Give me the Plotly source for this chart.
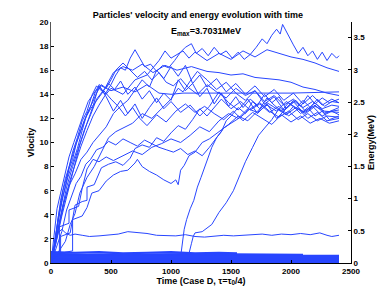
import plotly.graph_objects as go

# ---- tick labels ----
x_ticks = [0, 500, 1000, 1500, 2000, 2500]
v_ticks = [0, 2, 4, 6, 8, 10, 12, 14, 16, 18, 20]
e_ticks = [0, 0.5, 1, 1.5, 2, 2.5, 3, 3.5]
e_tick_labels = ["0", "0.5", "1", "1.5", "2", "2.5", "3", "3.5"]

# ---- particle trajectories (time, velocity) ----
t_p1 = [0, 20, 40, 60, 90, 120, 150, 180, 210, 250, 290, 330, 370, 410, 450, 500, 540, 580, 620, 660, 700, 740, 780, 830, 880, 930, 980, 1030, 1080, 1120, 1170, 1210, 1260, 1310, 1360, 1410, 1460, 1510, 1560, 1610, 1660, 1710, 1760, 1800, 1840, 1880, 1910, 1930, 1960, 1990, 2020, 2060, 2100, 2140, 2180, 2220, 2260, 2300, 2340, 2380, 2400]
v_p1 = [0, 0.8, 2.2, 3.5, 5.2, 6.4, 7.8, 8.6, 9.9, 11.0, 12.1, 13.0, 14.2, 14.6, 14.0, 14.8, 15.6, 16.2, 16.0, 17.0, 17.7, 17.0, 16.3, 16.5, 15.9, 16.4, 16.2, 16.8, 17.5, 17.9, 18.2, 17.4, 17.8, 17.2, 17.9, 17.3, 17.6, 17.0, 17.5, 16.9, 17.3, 17.9, 18.6, 18.2, 18.9, 19.4, 19.0, 19.8, 19.2, 18.6, 18.1, 17.4, 17.9, 17.2, 17.6, 16.9, 17.5, 16.8, 17.4, 17.0, 17.2]

t_p2 = [0, 30, 70, 110, 150, 200, 250, 300, 350, 400, 450, 500, 600, 700, 800, 900, 950, 1000, 1100, 1150, 1200, 1300, 1400, 1500, 1600, 1700, 1800, 1900, 2000, 2100, 2200, 2300, 2400]
v_p2 = [0, 1.4, 3.2, 5.0, 6.6, 8.1, 9.7, 11.0, 12.2, 13.1, 13.9, 14.5, 14.0, 15.2, 15.6, 16.8, 17.6, 17.0, 17.6, 17.0, 17.5, 16.8, 17.4, 16.9, 17.6, 17.1, 17.7, 17.4, 17.1, 16.9, 16.6, 16.2, 15.9]

t_p3 = [0, 40, 80, 130, 180, 230, 280, 330, 380, 450, 520, 600, 680, 760, 850, 950, 1050, 1170, 1300, 1400, 1500, 1600, 1700, 1800, 1900, 2000, 2100, 2200, 2300, 2400]
v_p3 = [0, 2.0, 4.1, 6.3, 8.0, 9.6, 11.1, 12.3, 13.6, 14.5, 15.8, 16.3, 16.0, 16.5, 15.8, 16.4, 16.0, 16.3, 15.9, 15.8, 15.6, 15.7, 15.4, 15.3, 15.2, 15.0, 14.6, 14.4, 14.1, 13.9]

t_p4 = [0, 40, 90, 140, 190, 240, 300, 350, 400, 500, 600, 700, 800, 900, 1000, 1100, 1400, 1700, 2000, 2400]
v_p4 = [0, 1.6, 3.9, 5.9, 7.9, 9.8, 11.6, 13.0, 14.8, 14.3, 14.6, 14.2, 14.8, 14.1, 14.0, 14.1, 14.1, 14.1, 14.1, 14.2]

t_p5 = [0, 30, 60, 100, 140, 180, 220, 260, 300, 340, 380, 430, 480, 530, 580, 640, 700, 760, 820, 880, 940, 1000, 1060, 1120, 1180, 1240, 1300, 1360, 1420, 1480, 1540, 1600, 1660, 1720, 1780, 1840, 1900, 1960, 2020, 2080, 2140, 2200, 2260, 2320, 2400]
v_p5 = [0, 1.5, 3.8, 6.0, 7.5, 9.2, 10.4, 11.8, 12.6, 13.9, 14.7, 14.2, 14.9, 14.4, 15.1, 14.0, 14.6, 13.6, 14.3, 13.3, 14.1, 13.5, 15.2, 14.3, 14.9, 13.8, 14.5, 13.2, 14.1, 13.0, 13.8, 12.9, 13.6, 13.1, 14.0, 13.3, 13.8, 12.8, 13.5, 13.0, 13.9, 13.2, 13.7, 13.3, 13.6]

t_p6 = [0, 25, 50, 80, 110, 150, 190, 230, 270, 310, 350, 400, 460, 520, 580, 640, 700, 760, 820, 880, 940, 1000, 1080, 1160, 1240, 1320, 1400, 1480, 1560, 1640, 1720, 1800, 1880, 1960, 2040, 2120, 2200, 2280, 2400]
v_p6 = [0, 2.0, 4.5, 5.8, 7.2, 8.8, 10.0, 11.2, 12.3, 13.4, 14.0, 14.7, 13.8, 12.6, 13.5, 12.4, 13.2, 12.0, 12.9, 13.7, 12.8, 13.4, 12.5, 13.1, 12.2, 13.0, 14.2, 13.3, 12.7, 13.6, 12.4, 13.2, 12.0, 12.8, 13.5, 12.6, 13.3, 12.5, 12.7]

t_p7 = [0, 40, 70, 70, 150, 150, 230, 260, 300, 350, 400, 460, 520, 600, 680, 760, 840, 920, 1000, 1080, 1160, 1240, 1320, 1400, 1480, 1560, 1640, 1720, 1800, 1880, 1960, 2040, 2120, 2200, 2280, 2400]
v_p7 = [0, 0.6, 0.8, 3.0, 3.3, 4.4, 4.7, 6.2, 7.8, 8.6, 8.4, 8.8, 8.5, 8.9, 9.3, 9.0, 9.6, 9.9, 10.3, 10.0, 10.6, 11.3, 10.9, 11.8, 12.4, 12.0, 12.8, 12.5, 13.1, 12.6, 13.4, 12.9, 12.4, 13.0, 12.6, 12.5]

t_p8 = [0, 60, 120, 180, 180, 260, 300, 340, 400, 460, 520, 580, 640, 700, 720, 760, 820, 880, 940, 1000, 1040, 1060, 1080, 1110, 1150, 1200, 1260, 1320, 1400, 1480, 1560, 1640, 1720, 1800, 1880, 1960, 2040, 2120, 2200, 2280, 2400]
v_p8 = [0, 0.7, 0.9, 1.0, 3.6, 3.9, 4.6, 5.8, 6.0, 6.8, 7.3, 7.6, 7.7, 8.3, 8.6, 8.0, 7.6, 7.3, 6.9, 6.6, 6.9, 6.5, 7.7, 8.1, 8.9, 9.2, 10.0, 10.3, 10.9, 11.5, 12.2, 11.8, 12.6, 13.3, 12.8, 12.3, 12.9, 12.5, 13.1, 12.4, 12.9]

t_p9 = [0, 40, 90, 130, 170, 210, 250, 290, 330, 380, 430, 480, 540, 600, 660, 720, 780, 840, 900, 960, 1020, 1080, 1140, 1200, 1260, 1320, 1380, 1440, 1500, 1580, 1660, 1740, 1820, 1900, 1980, 2060, 2140, 2220, 2300, 2400]
v_p9 = [0, 1.2, 2.6, 4.4, 5.5, 6.6, 7.2, 8.2, 8.6, 9.4, 9.6, 10.1, 9.8, 10.3, 10.0, 9.7, 10.2, 9.9, 9.6, 9.4, 9.2, 9.5, 9.0, 9.3, 8.9, 9.6, 10.4, 11.2, 11.6, 12.1, 12.8, 13.3, 12.6, 12.1, 12.6, 11.9, 12.4, 11.8, 12.2, 12.1]

t_p10 = [0, 80, 80, 160, 200, 260, 300, 300, 360, 420, 480, 540, 600, 660, 700, 760, 820, 880, 940, 1000, 1060, 1120, 1180, 1240, 1300, 1360, 1420, 1500, 1580, 1660, 1740, 1820, 1900, 1980, 2060, 2140, 2220, 2300, 2400]
v_p10 = [0, 0.8, 2.2, 2.5, 4.8, 5.1, 5.2, 6.3, 6.5, 7.9, 8.2, 8.4, 8.1, 8.7, 9.5, 9.8, 9.6, 10.4, 10.1, 10.8, 11.4, 11.1, 11.9, 12.8, 12.2, 12.9, 13.6, 12.8, 13.4, 12.7, 13.2, 12.5, 13.0, 12.2, 12.8, 12.0, 12.5, 11.8, 12.0]

t_p11 = [0, 50, 100, 150, 200, 250, 300, 350, 400, 460, 520, 580, 640, 700, 760, 820, 880, 940, 1000, 1060, 1120, 1180, 1240, 1300, 1380, 1460, 1540, 1620, 1700, 1780, 1860, 1940, 2020, 2100, 2180, 2260, 2340, 2400]
v_p11 = [0, 2.5, 4.8, 6.4, 7.4, 8.6, 9.2, 10.0, 10.6, 11.3, 12.4, 13.0, 13.5, 14.4, 15.2, 14.6, 16.0, 15.3, 16.3, 15.5, 16.4, 14.9, 15.6, 14.6, 15.3, 14.2, 14.9, 14.0, 14.7, 13.8, 14.4, 13.5, 14.1, 13.2, 13.9, 13.1, 13.6, 13.3]

t_p12 = [0, 60, 120, 160, 200, 240, 300, 360, 420, 480, 540, 600, 680, 760, 840, 920, 1000, 1060, 1100, 1160, 1220, 1300, 1380, 1460, 1540, 1620, 1700, 1780, 1860, 1940, 2020, 2100, 2180, 2260, 2340, 2400]
v_p12 = [0, 0.9, 1.8, 3.2, 4.1, 5.8, 7.1, 8.0, 9.2, 10.4, 10.9, 11.2, 11.6, 12.4, 12.0, 12.8, 13.6, 14.5, 14.2, 15.1, 15.9, 15.2, 14.4, 15.0, 14.1, 13.5, 14.3, 13.2, 13.8, 12.7, 13.4, 12.5, 13.0, 12.2, 12.6, 12.3]

t_p13 = [0, 300, 600, 900, 1080, 1090, 1110, 1130, 1160, 1190, 1220, 1250, 1280, 1310, 1340, 1380, 1420, 1460, 1500, 1560, 1620, 1680, 1740, 1800, 1860, 1920, 1980, 2040, 2100, 2160, 2220, 2280, 2340, 2400]
v_p13 = [0.3, 0.4, 0.35, 0.4, 0.5, 1.2, 2.8, 3.6, 4.5, 5.2, 6.3, 7.1, 7.9, 8.8, 9.6, 10.4, 10.9, 11.8, 12.2, 12.9, 12.4, 13.4, 12.8, 13.7, 13.1, 12.6, 13.3, 12.8, 13.5, 12.9, 13.6, 13.0, 13.4, 13.3]

t_p14 = [0, 300, 600, 900, 1150, 1170, 1185, 1200, 1260, 1300, 1340, 1400, 1460, 1520, 1580, 1620, 1680, 1730, 1780, 1840, 1900, 1960, 2020, 2080, 2140, 2200, 2260, 2320, 2400]
v_p14 = [0.6, 0.7, 0.65, 0.7, 0.8, 1.6, 2.2, 2.5, 2.6, 2.9, 3.2, 4.2, 5.0, 6.0, 7.4, 8.4, 9.6, 10.6, 11.2, 11.9, 12.8, 12.3, 13.0, 12.4, 12.9, 12.2, 12.6, 11.9, 12.2]

t_p15 = [0, 30, 60, 90, 120, 160, 200, 260, 320, 400, 480, 560, 640, 720, 800, 880, 960, 1040, 1120, 1200, 1280, 1360, 1440, 1520, 1600, 1680, 1760, 1840, 1920, 2000, 2080, 2160, 2240, 2300, 2340, 2400]
v_p15 = [0, 1.2, 2.5, 2.8, 2.5, 2.3, 2.4, 2.3, 2.2, 2.25, 2.3, 2.4, 2.6, 2.55, 2.45, 2.3, 2.3, 2.25, 2.35, 2.2, 2.15, 2.2, 2.3, 2.25, 2.3, 2.35, 2.4, 2.3, 2.4, 2.35, 2.45, 2.35, 2.5, 2.3, 2.2, 2.3]

t_p16 = [0, 20, 50, 80, 120, 160, 200, 240, 280, 330, 380, 440, 500, 560, 620, 680, 740, 800, 880, 960, 1040, 1120, 1200, 1280, 1360, 1440, 1520, 1600, 1680, 1760, 1840, 1920, 2000, 2080, 2160, 2240, 2320, 2400]
v_p16 = [0, 1.0, 3.0, 5.2, 7.0, 8.4, 9.6, 10.8, 11.9, 12.8, 13.5, 14.3, 13.6, 13.0, 12.2, 12.9, 12.0, 11.4, 12.3, 11.7, 12.6, 13.2, 12.5, 13.0, 12.4, 11.9, 12.6, 11.8, 12.5, 12.0, 11.5, 12.3, 11.7, 12.2, 11.6, 12.0, 11.6, 11.8]

t_p17 = [0, 30, 60, 100, 140, 180, 220, 260, 300, 340, 380, 420, 460, 500, 540, 600, 660, 720, 780, 840, 900, 960, 1020, 1080, 1140, 1220, 1300, 1380, 1460, 1540, 1620, 1700, 1780, 1860, 1940, 2020, 2100, 2180, 2260, 2340, 2400]
v_p17 = [0, 1.8, 3.6, 5.5, 7.1, 8.3, 9.5, 11.0, 12.4, 13.2, 14.1, 14.8, 14.5, 15.2, 16.0, 16.6, 16.0, 15.4, 15.9, 15.2, 15.8, 15.0, 14.7, 15.3, 14.6, 14.0, 14.8, 14.2, 13.7, 14.5, 13.9, 14.3, 13.4, 13.9, 13.1, 13.6, 12.9, 13.4, 12.8, 13.1, 13.0]

# ---- low-energy particles (bottom band) ----
t_b1 = [0, 200, 400, 600, 800, 1000, 1200, 1400, 1550]
v_b1 = [0.9, 0.85, 0.9, 0.8, 0.85, 0.9, 0.8, 0.85, 0.8]
t_b2 = [0, 300, 600, 900, 1200, 1500, 1800, 2100]
v_b2 = [0.75, 0.7, 0.72, 0.68, 0.7, 0.72, 0.7, 0.68]
t_b3 = [0, 400, 800, 1200, 1600, 2000, 2400]
v_b3 = [0.6, 0.62, 0.58, 0.6, 0.62, 0.6, 0.6]
t_b4 = [0, 400, 800, 1200, 1600, 2000, 2400]
v_b4 = [0.52, 0.5, 0.53, 0.5, 0.52, 0.5, 0.52]
t_b5 = [0, 400, 800, 1200, 1600, 2000, 2400]
v_b5 = [0.44, 0.45, 0.43, 0.45, 0.44, 0.43, 0.45]
t_b6 = [0, 400, 800, 1200, 1600, 2000, 2400]
v_b6 = [0.37, 0.36, 0.38, 0.36, 0.37, 0.38, 0.36]
t_b7 = [0, 400, 800, 1200, 1600, 2000, 2400]
v_b7 = [0.3, 0.29, 0.31, 0.3, 0.29, 0.3, 0.31]
t_b8 = [0, 400, 800, 1200, 1600, 2000, 2400]
v_b8 = [0.23, 0.24, 0.22, 0.23, 0.24, 0.22, 0.23]
t_b9 = [0, 400, 800, 1200, 1600, 2000, 2400]
v_b9 = [0.16, 0.17, 0.15, 0.16, 0.17, 0.16, 0.15]
t_b10 = [0, 400, 800, 1200, 1600, 2000, 2400]
v_b10 = [0.09, 0.1, 0.08, 0.09, 0.1, 0.09, 0.08]
t_b11 = [0, 400, 800, 1200, 1600, 2000, 2400]
v_b11 = [0.03, 0.04, 0.03, 0.02, 0.03, 0.04, 0.03]

upper = [(t_p1, v_p1), (t_p2, v_p2), (t_p3, v_p3), (t_p4, v_p4), (t_p5, v_p5),
         (t_p6, v_p6), (t_p7, v_p7), (t_p8, v_p8), (t_p9, v_p9), (t_p10, v_p10),
         (t_p11, v_p11), (t_p12, v_p12), (t_p13, v_p13), (t_p14, v_p14),
         (t_p15, v_p15), (t_p16, v_p16), (t_p17, v_p17)]
band = [(t_b1, v_b1), (t_b2, v_b2), (t_b3, v_b3), (t_b4, v_b4), (t_b5, v_b5),
        (t_b6, v_b6), (t_b7, v_b7), (t_b8, v_b8), (t_b9, v_b9), (t_b10, v_b10),
        (t_b11, v_b11)]

LINE = "rgb(40,70,255)"
FONT = "Liberation Sans"

fig = go.Figure()
for t, v in band:
    fig.add_trace(go.Scatter(x=t, y=v, mode="lines", line=dict(color=LINE, width=2.2),
                             showlegend=False, hoverinfo="skip"))
for t, v in upper:
    fig.add_trace(go.Scatter(x=t, y=v, mode="lines", line=dict(color=LINE, width=1),
                             showlegend=False, hoverinfo="skip"))
fig.add_trace(go.Scatter(x=[None], y=[None], yaxis="y2", showlegend=False, hoverinfo="skip"))

axis_common = dict(showgrid=False, zeroline=False, ticks="inside", ticklen=3,
                   tickwidth=1, tickcolor="black", showline=True, linewidth=1,
                   automargin=False,
                   tickfont=dict(family=FONT, size=8, color="black", weight="bold"))

fig.update_layout(
    width=388, height=292,
    margin=dict(l=51, r=37, t=22, b=29),
    paper_bgcolor="white", plot_bgcolor="white",
    font=dict(family=FONT, size=9, color="black"),
    hovermode=False,
    title=dict(text="<b>Particles' velocity and energy evolution with time</b>",
               x=0.51, xanchor="center", y=1 - 15 / 292, yanchor="middle",
               font=dict(family=FONT, size=9)),
    xaxis=dict(range=[0, 2500], tickvals=x_ticks, linecolor="black",
               title=dict(text="<b>Time (Case D, τ=τ<sub>0</sub>/4)</b>",
                          font=dict(family=FONT, size=9), standoff=2),
               **axis_common),
    yaxis=dict(range=[0, 20], tickvals=v_ticks, linecolor="#555555",
               title=dict(text="<b>Vlocity</b>", font=dict(family=FONT, size=9), standoff=3),
               **axis_common),
    yaxis2=dict(range=[0, 3.743], tickvals=e_ticks, ticktext=e_tick_labels,
                overlaying="y", side="right", linecolor="black",
                title=dict(text="<b>Energy(MeV)</b>", font=dict(family=FONT, size=9), standoff=3),
                **axis_common),
    annotations=[dict(text="<b>E<sub>max</sub>=3.7031MeV</b>", xref="paper", yref="paper",
                      x=0.517, y=0.96, xanchor="center", yanchor="middle",
                      showarrow=False, font=dict(family=FONT, size=9))],
)

fig.write_html("out.html", config={"displayModeBar": False},
               post_script="document.body.style.margin='0px';document.body.style.overflow='hidden';")
